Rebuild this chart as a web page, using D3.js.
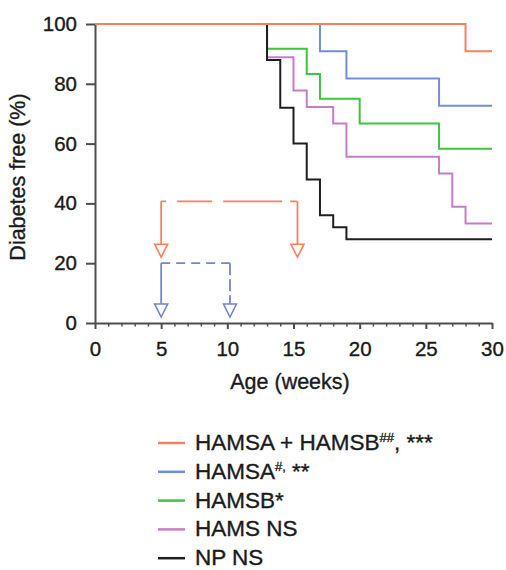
<!DOCTYPE html>
<html>
<head>
<meta charset="utf-8">
<script src="https://cdn.jsdelivr.net/npm/d3@7"></script>
<style>
  body { margin: 0; background: #fff; }
  text { font-family: "Liberation Sans", Arial, sans-serif; fill: #1a1a1a; stroke: #1a1a1a; stroke-width: 0.35px; }
</style>
</head>
<body>
<div id="chart"></div>
<script>
// step survival curves: week where each step starts, and % diabetes free
const groups = ['HAMSB', 'HAMS NS', 'HAMSA', 'NP NS', 'HAMSA + HAMSB']
const weeksHAMSB = [0, 13, 16, 17, 20, 26]
const freeHAMSB = [100, 91.7, 83.3, 75, 66.7, 58.3]
const weeksHAMS = [0, 13, 15, 16, 18, 19, 26, 27, 28]
const freeHAMS = [100, 88.9, 77.8, 72.2, 66.7, 55.6, 50, 38.9, 33.3]
const weeksHAMSA = [0, 17, 19, 26]
const freeHAMSA = [100, 90.9, 81.8, 72.7]
const weeksNP = [0, 13, 14, 15, 16, 17, 18, 19]
const freeNP = [100, 88, 72, 60, 48, 36, 32, 28]
const weeksBoth = [0, 28]
const freeBoth = [100, 90.9]
const endWeek = 30

// treatment windows drawn as arrows
const orangeWindow = [5, 15.3]
const orangeLevel = 40.7
const orangeTip = 22
const blueWindow = [5, 10.2]
const blueLevel = 20
const blueTip = 2

// legend (top to bottom)
const legendNames = ['HAMSA + HAMSB', 'HAMSA', 'HAMSB*', 'HAMS NS', 'NP NS']
const legendSup = ['##', '#,', '', '', '']
const legendTail = [', ***', ' **', '', '', '']

const xTicks = [0, 5, 10, 15, 20, 25, 30]
const yTicks = [0, 20, 40, 60, 80, 100]

function draw() {
    const colors = {
        'NP NS': '#1e1e1e',
        'HAMS NS': '#c77cc9',
        'HAMSB': '#3fc43f',
        'HAMSA': '#6f90d8',
        'HAMSA + HAMSB': '#f8805e'
    }
    const legendColors = ['#f8805e', '#6f90d8', '#3fc43f', '#c77cc9', '#1e1e1e']
    const arrowOrange = '#f8805e'
    const arrowBlue = '#7484cf'

    const width = 506
    const height = 570

    const svg = d3.select('#chart')
        .append('svg')
        .attr('width', width)
        .attr('height', height)

    const x = d3.scaleLinear().domain([0, 30]).range([95, 492])
    const y = d3.scaleLinear().domain([0, 100]).range([323, 24])

    // axes
    const xAxis = svg.append('g')
        .attr('transform', `translate(0, ${y(0)})`)
        .call(d3.axisBottom(x).tickValues(xTicks).tickSize(6).tickPadding(12).tickSizeOuter(0))
    const xMinor = svg.append('g')
        .attr('transform', `translate(0, ${y(0)})`)
        .call(d3.axisBottom(x).tickValues(d3.range(0, 31).filter(d => d % 5 !== 0))
            .tickSize(3.5).tickFormat('').tickSizeOuter(0))
    xMinor.select('.domain').remove()

    const yAxis = svg.append('g')
        .attr('transform', `translate(${x(0)}, 0)`)
        .call(d3.axisLeft(y).tickValues(yTicks).tickSize(9).tickPadding(9).tickSizeOuter(0))

    ;[xAxis, xMinor, yAxis].forEach(g => {
        g.selectAll('path, line').attr('stroke', '#4d4d4d').attr('stroke-width', 2)
        g.selectAll('text').attr('font-size', 20.5).attr('fill', '#1a1a1a')
            .style('font-family', '"Liberation Sans", Arial, sans-serif')
    })
    xMinor.selectAll('line').attr('stroke-width', 1.5)

    svg.append('text')
        .attr('x', 290)
        .attr('y', 389)
        .attr('text-anchor', 'middle')
        .attr('font-size', 21.5)
        .text('Age (weeks)')

    svg.append('text')
        .attr('transform', `translate(25, 177) rotate(-90)`)
        .attr('text-anchor', 'middle')
        .attr('font-size', 21.5)
        .text('Diabetes free (%)')

    // curves
    const series = [
        [weeksHAMSB, freeHAMSB],
        [weeksHAMS, freeHAMS],
        [weeksHAMSA, freeHAMSA],
        [weeksNP, freeNP],
        [weeksBoth, freeBoth]
    ]
    const line = d3.line()
        .x(d => x(d[0]))
        .y(d => y(d[1]))
        .curve(d3.curveStepAfter)

    series.forEach((s, i) => {
        const pts = s[0].map((w, j) => [w, s[1][j]])
        pts.push([endWeek, s[1][s[1].length - 1]])
        svg.append('path')
            .datum(pts)
            .attr('d', line)
            .attr('fill', 'none')
            .attr('stroke', colors[groups[i]])
            .attr('stroke-width', 2)
    })

    // arrows
    function arrows(win, level, tip, color, dash, vdash) {
        svg.append('line')
            .attr('x1', x(win[0])).attr('x2', x(win[1]))
            .attr('y1', y(level)).attr('y2', y(level))
            .attr('stroke', color).attr('stroke-width', 1.8)
            .attr('stroke-dasharray', dash)
        win.forEach((w, i) => {
            const tx = x(w)
            const ty = y(tip)
            svg.append('line')
                .attr('x1', tx).attr('x2', tx)
                .attr('y1', y(level)).attr('y2', ty - 13)
                .attr('stroke', color).attr('stroke-width', 1.8)
                .attr('stroke-dasharray', i === 1 ? vdash : null)
            svg.append('path')
                .attr('d', `M${tx - 6.5},${ty - 13}L${tx + 6.5},${ty - 13}L${tx},${ty}Z`)
                .attr('fill', '#fff')
                .attr('stroke', color)
                .attr('stroke-width', 1.6)
        })
    }
    arrows(orangeWindow, orangeLevel, orangeTip, arrowOrange, '5,11,35,11,59,8,7', null)
    arrows(blueWindow, blueLevel, blueTip, arrowBlue, '9,6', '12,4')

    // legend
    const legend = svg.append('g')
    legendNames.forEach((name, i) => {
        const ly = 443 + i * 28.8
        legend.append('line')
            .attr('x1', 158).attr('x2', 185)
            .attr('y1', ly).attr('y2', ly)
            .attr('stroke', legendColors[i]).attr('stroke-width', 2.5)
        const t = legend.append('text')
            .attr('x', 195)
            .attr('y', ly + 7)
            .attr('font-size', 22.5)
        t.append('tspan').text(name)
        if (legendSup[i]) {
            t.append('tspan').attr('font-size', 13).attr('dy', -8).text(legendSup[i])
        }
        if (legendTail[i]) {
            t.append('tspan').attr('dy', legendSup[i] ? 8 : 0).text(legendTail[i])
        }
    })
}

draw()
</script>
</body>
</html>
